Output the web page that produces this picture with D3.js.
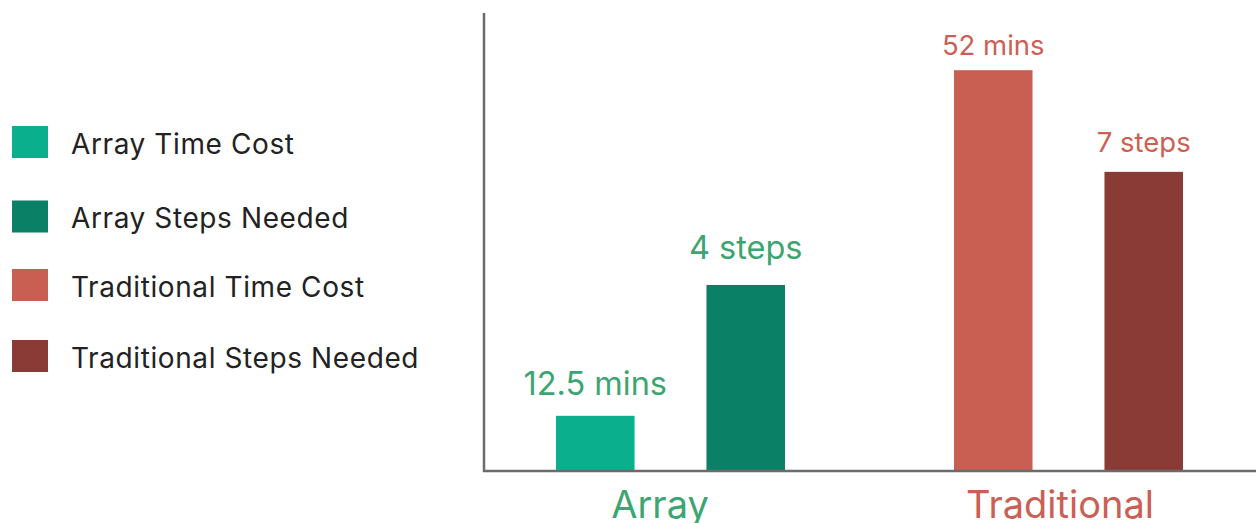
<!DOCTYPE html>
<html>
<head>
<meta charset="utf-8">
<script src="https://cdn.jsdelivr.net/npm/d3@7"></script>
<style>
  html, body { margin: 0; padding: 0; background: #fff; }
  svg { display: block; font-family: Inter, "Noto Sans", sans-serif; }
</style>
</head>
<body>
<svg id="chart" width="1256" height="523"></svg>
<script>
// ---- data ----
const categories = ["Array", "Traditional"];
const metrics = ["Time Cost", "Steps Needed"];
// relative bar heights (0-100 display scale)
const arrayHeights = [12.1, 40.8];
const traditionalHeights = [87.9, 65.6];
const arrayLabels = ["12.5 mins", "4 steps"];
const traditionalLabels = ["52 mins", "7 steps"];
const legendLabels = ["Array Time Cost", "Array Steps Needed", "Traditional Time Cost", "Traditional Steps Needed"];

const barColors = { Array: ["#0ab08e", "#0a8066"], Traditional: ["#c95f52", "#8a3b35"] };
const textColors = { Array: "#3ca571", Traditional: "#cc5f55" };
const labelSize = { Array: 32.5, Traditional: 27.5 };
const labelGap = { Array: [21, 26], Traditional: [15, 20] };

const rows = [
  { cat: "Array", heights: arrayHeights, labels: arrayLabels },
  { cat: "Traditional", heights: traditionalHeights, labels: traditionalLabels }
];

const svg = d3.select("#chart");
const baseY = 471, topY = 15;

const y = d3.scaleLinear().domain([0, 100]).range([baseY, topY]);
const x0 = d3.scaleBand().domain(categories).range([461, 1257]).paddingInner(0);
const x1 = d3.scaleBand().domain(metrics).range([95, 324]).paddingInner(0.478).paddingOuter(0);

// bars
const groups = svg.selectAll("g.grp").data(rows).join("g")
  .attr("class", "grp")
  .attr("transform", d => `translate(${x0(d.cat)},0)`);

const barData = d => d.heights.map((h, i) => ({ cat: d.cat, m: metrics[i], h, i, label: d.labels[i] }));

groups.selectAll("rect").data(barData)
  .join("rect")
  .attr("x", d => x1(d.m))
  .attr("y", d => y(d.h))
  .attr("width", x1.bandwidth())
  .attr("height", d => baseY - y(d.h))
  .attr("fill", d => barColors[d.cat][d.i]);

groups.selectAll("text.val").data(barData)
  .join("text")
  .attr("class", "val")
  .attr("x", d => x1(d.m) + x1.bandwidth() / 2)
  .attr("y", d => y(d.h) - labelGap[d.cat][d.i])
  .attr("text-anchor", "middle")
  .attr("font-size", d => labelSize[d.cat])
  .attr("font-weight", 400)
  .attr("fill", d => textColors[d.cat])
  .text(d => d.label);

// axes
const xAxis = d3.axisBottom(x0).tickSize(0).tickPadding(0);
const xg = svg.append("g").attr("transform", `translate(0,${baseY})`).call(xAxis);
xg.select(".domain").remove();
xg.selectAll("text")
  .attr("x", (d, i) => i === 0 ? 0 : 2)
  .attr("y", 47)
  .attr("dy", 0)
  .attr("font-size", 38)
  .attr("font-family", "Inter, sans-serif")
  .attr("font-weight", 400)
  .attr("fill", d => textColors[d]);

svg.append("line").attr("x1", 483).attr("x2", 1256).attr("y1", baseY).attr("y2", baseY)
  .attr("stroke", "#6b6b6b").attr("stroke-width", 2.5);
svg.append("line").attr("x1", 484).attr("x2", 484).attr("y1", 13).attr("y2", baseY + 1)
  .attr("stroke", "#6b6b6b").attr("stroke-width", 2.5);

// legend
const legendColors = [barColors.Array[0], barColors.Array[1], barColors.Traditional[0], barColors.Traditional[1]];
const legendY = [142, 216.5, 285, 356];
const lg = svg.selectAll("g.leg").data(legendLabels).join("g")
  .attr("class", "leg")
  .attr("transform", (d, i) => `translate(0,${legendY[i]})`);
lg.append("rect").attr("x", 12).attr("y", -16).attr("width", 36).attr("height", 32)
  .attr("fill", (d, i) => legendColors[i]);
lg.append("text").attr("x", 71).attr("y", 0).attr("dy", "0.42em")
  .attr("font-size", 28).attr("letter-spacing", 0.6).attr("fill", "#222")
  .text(d => d);
</script>
</body>
</html>
